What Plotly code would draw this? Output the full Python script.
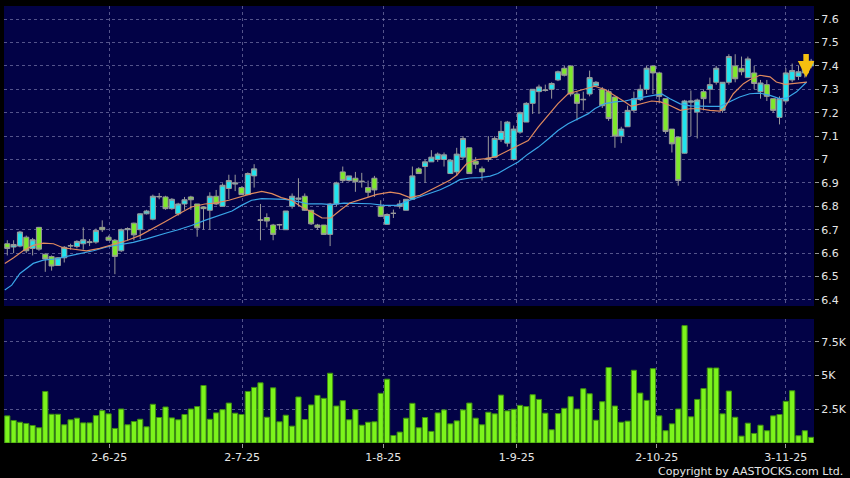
import plotly.graph_objects as go
from plotly.subplots import make_subplots

# ---------------- data ----------------
opens = [6.64, 6.626, 6.63, 6.668, 6.62, 6.71, 6.595, 6.585, 6.547, 6.58,
         6.63, 6.628, 6.64, 6.645, 6.647, 6.71, 6.668, 6.655, 6.61, 6.70,
         6.728, 6.70, 6.768, 6.745, 6.84, 6.84, 6.79, 6.768, 6.81, 6.84,
         6.81, 6.797, 6.783, 6.843, 6.80, 6.876, 6.895, 6.88, 6.85, 6.93,
         6.74, 6.752, 6.72, 6.72, 6.70, 6.80, 6.83, 6.843, 6.783, 6.72,
         6.72, 6.68, 6.81, 6.947, 6.91, 6.92, 6.905, 6.88, 6.92, 6.80,
         6.723, 6.77, 6.80, 6.783, 6.83, 6.96, 6.97, 6.99, 7.0, 7.0,
         6.94, 6.947, 7.01, 7.05, 6.993, 6.96, 7.0, 7.01, 7.085, 7.07,
         7.0, 7.117, 7.16, 7.24, 7.29, 7.295, 7.30, 7.34, 7.39, 7.40,
         7.28, 7.255, 7.28, 7.315, 7.30, 7.29, 7.267, 7.10, 7.14, 7.21,
         7.256, 7.30, 7.40, 7.37, 7.26, 7.13, 7.096, 7.027, 7.245, 7.203,
         7.29, 7.30, 7.33, 7.21, 7.33, 7.40, 7.39, 7.35, 7.37, 7.29,
         7.32, 7.26, 7.18, 7.25, 7.34, 7.355, 7.37, 7.40]
highs = [6.655, 6.655, 6.695, 6.675, 6.665, 6.712, 6.60, 6.59, 6.583, 6.63,
         6.64, 6.655, 6.71, 6.66, 6.705, 6.74, 6.675, 6.66, 6.705, 6.71,
         6.73, 6.77, 6.785, 6.85, 6.857, 6.845, 6.835, 6.815, 6.84, 6.845,
         6.81, 6.80, 6.86, 6.87, 6.898, 6.935, 6.935, 6.885, 6.945, 6.98,
         6.81, 6.77, 6.725, 6.725, 6.78, 6.855, 6.92, 6.855, 6.785, 6.725,
         6.72, 6.815, 6.905, 6.97, 6.93, 6.947, 6.943, 6.91, 6.93, 6.826,
         6.77, 6.786, 6.826, 6.83, 6.97, 6.967, 7.0, 7.04, 7.03, 7.03,
         7.0, 7.05, 7.10, 7.05, 7.01, 6.97, 7.10, 7.10, 7.165, 7.165,
         7.145, 7.205, 7.245, 7.30, 7.32, 7.32, 7.33, 7.38, 7.40, 7.40,
         7.29, 7.29, 7.38, 7.335, 7.31, 7.30, 7.267, 7.14, 7.23, 7.29,
         7.32, 7.40, 7.40, 7.375, 7.26, 7.13, 7.096, 7.255, 7.295, 7.26,
         7.30, 7.35, 7.40, 7.33, 7.45, 7.45, 7.44, 7.44, 7.40, 7.34,
         7.34, 7.26, 7.27, 7.39, 7.41, 7.40, 7.40, 7.43]
lows = [6.59, 6.60, 6.625, 6.60, 6.59, 6.61, 6.52, 6.525, 6.545, 6.56,
        6.615, 6.62, 6.615, 6.63, 6.64, 6.69, 6.655, 6.51, 6.605, 6.655,
        6.655, 6.66, 6.765, 6.74, 6.83, 6.785, 6.785, 6.76, 6.785, 6.785,
        6.67, 6.70, 6.70, 6.805, 6.80, 6.83, 6.865, 6.85, 6.85, 6.88,
        6.655, 6.71, 6.655, 6.70, 6.70, 6.79, 6.80, 6.78, 6.72, 6.70,
        6.68, 6.63, 6.80, 6.90, 6.905, 6.862, 6.88, 6.84, 6.84, 6.754,
        6.72, 6.75, 6.79, 6.783, 6.83, 6.94, 6.90, 6.99, 6.99, 6.97,
        6.94, 6.93, 7.0, 6.94, 6.96, 6.91, 6.99, 7.01, 7.075, 7.055,
        6.995, 7.11, 7.16, 7.195, 7.195, 7.29, 7.26, 7.335, 7.355, 7.27,
        7.167, 7.21, 7.27, 7.31, 7.22, 7.165, 7.05, 7.07, 7.14, 7.20,
        7.25, 7.28, 7.28, 7.24, 7.11, 7.03, 6.888, 7.025, 7.10, 7.09,
        7.21, 7.24, 7.32, 7.20, 7.32, 7.33, 7.36, 7.35, 7.30, 7.26,
        7.25, 7.20, 7.15, 7.24, 7.33, 7.34, 7.35, 7.39]
closes = [6.62, 6.637, 6.69, 6.61, 6.657, 6.617, 6.575, 6.545, 6.58, 6.625,
          6.632, 6.65, 6.657, 6.648, 6.697, 6.70, 6.655, 6.586, 6.70, 6.705,
          6.678, 6.768, 6.78, 6.843, 6.842, 6.79, 6.83, 6.81, 6.828, 6.828,
          6.708, 6.79, 6.843, 6.81, 6.89, 6.91, 6.90, 6.85, 6.94, 6.96,
          6.742, 6.737, 6.68, 6.722, 6.78, 6.843, 6.835, 6.783, 6.725, 6.71,
          6.68, 6.81, 6.90, 6.91, 6.93, 6.905, 6.907, 6.86, 6.87, 6.757,
          6.765, 6.77, 6.81, 6.83, 6.93, 6.94, 6.99, 7.01, 7.023, 7.02,
          6.997, 7.023, 7.09, 6.94, 6.98, 6.947, 7.006, 7.09, 7.12, 7.16,
          7.13, 7.20, 7.24, 7.30, 7.31, 7.297, 7.325, 7.375, 7.36, 7.28,
          7.24, 7.257, 7.35, 7.33, 7.23, 7.175, 7.10, 7.13, 7.21, 7.26,
          7.30, 7.39, 7.37, 7.27, 7.12, 7.067, 6.91, 7.25, 7.25, 7.254,
          7.26, 7.32, 7.39, 7.33, 7.44, 7.345, 7.375, 7.43, 7.325, 7.327,
          7.27, 7.21, 7.26, 7.37, 7.38, 7.375, 7.39, 7.42]
volumes = [2010, 1670, 1540, 1450, 1300, 1130, 3820, 2130, 2130, 1350,
           1720, 1840, 1490, 1490, 2030, 2400, 2160, 1080, 2520, 1350,
           1590, 1760, 1200, 2870, 1890, 2670, 1860, 1720, 2110, 2520,
           2700, 4260, 1760, 2230, 2470, 2960, 2210, 2110, 3820, 4120,
           4460, 1910, 4090, 1570, 2060, 1250, 3410, 1740, 2820, 3530,
           3310, 5170, 2740, 3140, 1720, 2470, 1320, 1540, 1570, 3680,
           4730, 560, 810, 1840, 2940, 1130, 1890, 860, 2230, 2450,
           1420, 1640, 2450, 2960, 1840, 1350, 2280, 2160, 3550, 2380,
           2500, 2790, 2700, 3580, 3230, 2210, 980, 2180, 2570, 3430,
           2520, 4020, 3650, 1690, 3060, 5590, 2740, 1540, 1620, 5390,
           3700, 3160, 5510, 2010, 910, 1420, 2520, 8700, 1940, 3230,
           4040, 5560, 5560, 2160, 3850, 1910, 510, 1470, 710, 1320,
           910, 2010, 2110, 3090, 3870, 540, 910, 420]

# short moving average (orange)
ma_short_x = [-0.4, 1, 2.5, 4.1, 5.7, 7.3, 8.8, 10.4, 12.5, 14.6, 16.7, 18.9, 21, 23,
              25, 27, 29.1, 31.2, 32.8, 35, 37, 38.6, 40.2, 41.8, 43.3, 44.9, 46.5,
              48.1, 49.7, 51.1, 52.6, 54.1, 56.3, 58.4, 60.5, 62, 63.6, 65.2, 66.8,
              68.4, 69.9, 71, 72.6, 74.2, 75.7, 77.2, 79.2, 80.7, 82.3, 83.9, 85.5,
              87, 88.6, 90.2, 91.8, 92.8, 94.4, 96, 97.6, 98.6, 100.2, 101.8, 103.2,
              104.7, 106.3, 107.9, 109.4, 111, 112.6, 113.4, 114.7, 116.3, 117.3,
              118.9, 120.5, 121.5, 122.9, 124.2, 125.8, 126.3]
ma_short_y = [6.556, 6.58, 6.61, 6.633, 6.643, 6.64, 6.623, 6.617, 6.61, 6.62, 6.637,
              6.654, 6.676, 6.704, 6.735, 6.766, 6.797, 6.81, 6.814, 6.826, 6.843,
              6.854, 6.864, 6.854, 6.837, 6.826, 6.797, 6.776, 6.751, 6.75, 6.783,
              6.814, 6.833, 6.851, 6.861, 6.854, 6.837, 6.847, 6.869, 6.89, 6.911,
              6.933, 6.983, 7.0, 7.004, 7.012, 7.039, 7.06, 7.081, 7.139, 7.189,
              7.239, 7.281, 7.293, 7.307, 7.313, 7.299, 7.274, 7.246, 7.227, 7.239,
              7.25, 7.246, 7.231, 7.21, 7.217, 7.217, 7.21, 7.207, 7.224, 7.281,
              7.324, 7.341, 7.36, 7.353, 7.331, 7.321, 7.324, 7.327, 7.331]
# long moving average (blue)
ma_long_x = [-0.4, 0.7, 2, 4.1, 5.7, 7.8, 9.4, 11.5, 13.6, 15.7, 17.8, 19.9, 22, 24.1,
             25, 27, 29.1, 31.2, 33.4, 35.5, 37, 38.6, 40.2, 41.8, 43.9, 46, 47.6,
             49.7, 51.2, 53.2, 55.2, 57.4, 59.5, 61.6, 63.6, 65.2, 66.8, 68.4, 69.9,
             71.5, 73.1, 74.7, 76.3, 77.5, 79.2, 80.7, 82.3, 83.9, 85.5, 87, 88.6,
             90.2, 91.8, 92.8, 94.4, 96, 97.6, 99.2, 100.7, 102.3, 103.4, 104.7,
             106.3, 107.9, 109.4, 111, 112.6, 114.2, 115.7, 117.3, 118.9, 120.5,
             122, 123.1, 124.7, 126.3]
ma_long_y = [6.442, 6.463, 6.513, 6.556, 6.57, 6.576, 6.586, 6.597, 6.61, 6.626, 6.637,
             6.646, 6.661, 6.68, 6.685, 6.70, 6.718, 6.74, 6.761, 6.78, 6.804, 6.826,
             6.833, 6.833, 6.83, 6.82, 6.81, 6.81, 6.807, 6.814, 6.814, 6.811, 6.804,
             6.804, 6.826, 6.84, 6.854, 6.871, 6.89, 6.914, 6.921, 6.923, 6.929, 6.94,
             6.967, 6.989, 7.024, 7.053, 7.089, 7.124, 7.153, 7.174, 7.196, 7.217,
             7.239, 7.246, 7.25, 7.26, 7.267, 7.277, 7.28, 7.26, 7.238, 7.229, 7.227,
             7.227, 7.227, 7.246, 7.267, 7.281, 7.284, 7.274, 7.26, 7.262, 7.289,
             7.331]

date_ticks = [16.1, 37.1, 59.4, 80.5, 102.6, 123.0]
date_labels = ["2-6-25", "2-7-25", "1-8-25", "1-9-25", "2-10-25", "3-11-25"]
price_ticks = [6.4, 6.5, 6.6, 6.7, 6.8, 6.9, 7.0, 7.1, 7.2, 7.3, 7.4, 7.5, 7.6]
price_labels = ["6.4", "6.5", "6.6", "6.7", "6.8", "6.9", "7", "7.1", "7.2",
                "7.3", "7.4", "7.5", "7.6"]
vol_ticks = [2500, 5000, 7500]
vol_labels = ["2.5K", "5K", "7.5K"]

# ---------------- styling ----------------
NAVY = "#020246"
GRID = "rgba(140,140,185,0.6)"
CYAN = "#20E4EE"
LIME = "#7EE82C"
VOL = "#7CF41C"
TXT = "#E6E6E6"
FONT = "DejaVu Sans"

idx = list(range(len(closes)))

fig = make_subplots(rows=2, cols=1, shared_xaxes=True)

fig.add_trace(go.Candlestick(
    x=idx, open=opens, high=highs, low=lows, close=closes,
    increasing=dict(fillcolor=CYAN, line=dict(color="#9a9a9a", width=1)),
    decreasing=dict(fillcolor=LIME, line=dict(color="#9a9a9a", width=1)),
    whiskerwidth=0, hoverinfo="skip", showlegend=False), row=1, col=1)

fig.add_trace(go.Scatter(x=ma_long_x, y=ma_long_y, mode="lines",
                         line=dict(color="#3AA6E8", width=1.2),
                         hoverinfo="skip", showlegend=False), row=1, col=1)
fig.add_trace(go.Scatter(x=ma_short_x, y=ma_short_y, mode="lines",
                         line=dict(color="#E08A5E", width=1.2),
                         hoverinfo="skip", showlegend=False), row=1, col=1)

fig.add_trace(go.Bar(x=idx, y=volumes, marker=dict(color=VOL, line=dict(color="#3E8E12", width=1)),
                     width=0.82, hoverinfo="skip", showlegend=False), row=2, col=1)

xr = [-0.52, 127.45]
axis_common = dict(showgrid=True, gridcolor=GRID, griddash="3px,3px", gridwidth=1,
                   zeroline=False, showline=False,
                   tickfont=dict(family=FONT, size=11, color=TXT))

fig.update_layout(
    width=850, height=478,
    paper_bgcolor="#000000", plot_bgcolor=NAVY,
    margin=dict(l=4, r=36, t=6, b=35),
    showlegend=False,
    boxgap=0.2, boxgroupgap=0.0,
    xaxis=dict(domain=[0, 1], range=xr, tickvals=date_ticks, ticktext=date_labels,
               showticklabels=False, ticks="", rangeslider=dict(visible=False),
               anchor="y", **axis_common),
    xaxis2=dict(domain=[0, 1], range=xr, tickvals=date_ticks, ticktext=date_labels,
                showticklabels=True, ticks="outside", ticklen=4, tickcolor="#9a9a9a",
                anchor="y2", **axis_common),
    yaxis=dict(domain=[0.3135, 1], range=[6.374, 7.656], side="right",
               tickvals=price_ticks, ticktext=price_labels,
               ticks="outside", ticklen=4, tickcolor="#9a9a9a", anchor="x",
               **axis_common),
    yaxis2=dict(domain=[0, 0.2838], range=[0, 9190], side="right",
                tickvals=vol_ticks, ticktext=vol_labels,
                ticks="outside", ticklen=4, tickcolor="#9a9a9a", anchor="x2",
                **axis_common),
    bargap=0.15,
)

# latest-price marker arrow (yellow, shaft + head)
fig.add_annotation(x=126.2, y=7.35, xref="x", yref="y", text="", showarrow=True,
                   ax=0, ay=-25, arrowhead=2, arrowsize=0.6, arrowwidth=5.5,
                   arrowcolor="#F6C010")

fig.add_annotation(text="Copyright by AASTOCKS.com Ltd.", xref="paper", yref="paper",
                   x=1.0385, y=-0.066, xanchor="right", yanchor="middle",
                   showarrow=False, font=dict(family=FONT, size=11, color=TXT))

fig.write_html("out.html", config={"displayModeBar": False},
               post_script="document.body.style.margin='0';document.body.style.padding='0';"
                           "document.body.style.background='#000';")
